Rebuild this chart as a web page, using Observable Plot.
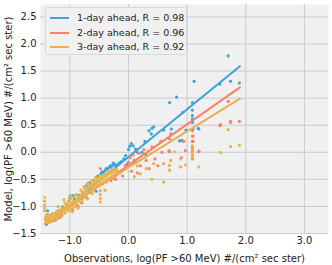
<!DOCTYPE html>
<html><head><meta charset="utf-8">
<script src="https://cdn.jsdelivr.net/npm/d3@7"></script>
<script src="https://cdn.jsdelivr.net/npm/@observablehq/plot@0.6"></script>
<style>
body{margin:0;background:#fff;font-family:"DejaVu Sans",sans-serif;}
#wrap{position:relative;width:332px;height:265px;}
#legend{position:absolute;left:45px;top:7px;width:142px;height:48px;background:#f0f0f0;border:1px solid #d8d8d8;border-radius:3px;box-sizing:border-box;font-size:9.5px;color:#222;}
.row{position:absolute;left:0;height:12px;line-height:12px;white-space:nowrap;}
.sw{position:absolute;left:4px;top:5px;width:19px;height:2px;}
.lt{position:absolute;left:31px;top:0;}
</style></head><body>
<div id="wrap"><div id="chart"></div><div id="legend"></div></div>
<script>
const seriesNames = ["1-day ahead, R = 0.98", "2-day ahead, R = 0.96", "3-day ahead, R = 0.92"];
const colors = ["#3aa3dc", "#f9806a", "#e7b24c"];
const xTicks = [-1, 0, 1, 2, 3];
const yTicks = [-1.5, -1, -0.5, 0, 0.5, 1, 1.5, 2, 2.5];
const xLabel = "Observations, log(PF >60 MeV) #/(cm² sec ster)";
const yLabel = "Model, log(PF >60 MeV) #/(cm² sec ster)";

// fitted lines [obs, model] end points
const fit1 = [[-1.40, -1.32], [1.90, 1.59]];
const fit2 = [[-1.40, -1.30], [1.90, 1.20]];
const fit3 = [[-1.40, -1.22], [1.90, 0.99]];

// 1-day ahead points [obs, model]
const pts1 = [
 [-1.40,-1.33],[-1.38,-1.27],[-1.38,-1.23],[-1.38,-1.15],[-1.38,-1.08],[-1.35,-1.28],[-1.30,-1.14],[-1.25,-1.22],
 [-1.20,-1.08],[-1.12,-1.01],[-1.05,-0.97],[-1.00,-0.85],[-0.95,-0.80],[-0.92,-0.86],[-0.85,-0.79],[-0.78,-0.74],
 [-0.72,-0.62],[-0.66,-0.56],[-0.60,-0.52],[-0.55,-0.72],[-0.52,-0.44],[-0.47,-0.40],[-0.43,-0.37],[-0.40,-0.34],
 [-0.36,-0.31],[-0.33,-0.28],[-0.30,-0.27],[-0.27,-0.24],[-0.24,-0.22],[-0.21,-0.26],[-0.19,-0.23],[-0.16,-0.20],
 [-0.12,-0.17],[-0.08,-0.12],[-0.05,-0.06],[0.00,0.05],[0.02,0.11],[0.05,0.16],[0.08,0.12],[0.12,0.06],
 [0.15,0.00],[0.23,0.00],[0.28,0.20],[0.35,0.40],[0.39,0.34],[0.40,0.44],[0.43,0.47],[0.60,0.41],
 [0.70,0.92],[0.73,0.43],[0.82,1.02],[0.87,0.21],[0.91,0.22],[0.93,0.74],[0.98,0.41],[1.09,0.92],
 [1.09,0.78],[1.09,0.68],[1.09,0.62],[1.09,0.58],[1.09,0.55],[1.10,0.43],[1.12,1.31],[1.19,0.44],
 [1.20,0.43],[1.56,1.26],[1.70,1.78],[1.74,1.31],[1.89,1.28],[0.30,-0.05],[0.10,-0.15],[-0.02,-0.22],
 [-0.45,-0.36],[-0.38,-0.30],[-0.31,-0.25],[-0.26,-0.20]
];
// 2-day ahead points
const pts2 = [
 [-1.41,-1.31],[-1.36,-1.29],[-1.30,-1.27],[-1.22,-1.22],[-1.15,-1.18],[-1.02,-0.90],[-0.95,-1.06],[-0.88,-0.99],
 [-0.80,-0.93],[-0.72,-0.83],[-0.65,-0.74],[-0.58,-0.68],[-0.50,-0.62],[-0.44,-0.58],[-0.38,-0.55],[-0.33,-0.50],
 [-0.28,-0.47],[-0.24,-0.48],[-0.20,-0.42],[-0.15,-0.38],[-0.10,-0.44],[-0.06,-0.30],[-0.05,-0.24],[0.00,-0.18],
 [0.03,-0.10],[0.05,-0.35],[0.08,-0.05],[0.10,-0.20],[0.15,-0.38],[0.18,-0.02],[0.20,-0.25],[0.26,0.05],
 [0.30,-0.15],[0.35,-0.30],[0.40,0.10],[0.45,-0.12],[0.50,-0.25],[0.55,0.20],[0.57,0.00],[0.69,0.03],
 [0.70,0.25],[0.70,0.01],[0.72,0.34],[0.90,-0.10],[0.94,0.20],[0.97,0.03],[1.09,0.40],[1.09,0.30],
 [1.09,0.20],[1.09,0.10],[1.09,0.02],[1.09,-0.05],[1.09,-0.12],[1.10,0.30],[1.10,0.20],[1.20,0.02],
 [1.20,0.01],[1.56,0.49],[1.57,0.51],[1.70,0.94],[1.74,0.57],[1.74,0.55],[1.89,0.57],[-0.48,-0.30],
 [-1.25,-1.26],[-1.18,-1.21],[-0.30,-0.52],[-0.22,-0.50]
];
// 3-day ahead points
const pts3 = [
 [-1.42,-1.24],[-1.41,-1.19],[-1.40,-1.29],[-1.43,-0.83],[-1.43,-0.90],[-1.43,-0.97],[-1.43,-1.03],[-1.43,-1.08],
 [-1.38,-1.25],[-1.39,-1.15],[-1.37,-1.30],[-1.33,-1.23],[-1.32,-1.28],[-1.27,-1.20],[-1.27,-1.26],[-1.22,-1.17],
 [-1.36,-1.21],[-1.35,-1.16],[-1.34,-1.26],[-1.30,-1.19],[-1.29,-1.14],[-1.28,-1.23],[-1.25,-1.16],[-1.24,-1.11],
 [-1.23,-1.21],[-1.20,-1.14],[-1.19,-1.09],[-1.18,-1.19],[-1.20,-1.00],[-1.15,-1.10],[-1.14,-1.05],[-1.13,-1.15],
 [-1.10,-1.07],[-1.09,-1.02],[-1.08,-1.12],[-1.10,-0.88],[-1.05,-1.03],[-1.04,-0.98],[-1.03,-1.08],[-1.00,-1.00],
 [-0.99,-0.95],[-0.98,-1.05],[-1.00,-0.80],[-0.98,-0.85],[-0.95,-0.96],[-0.94,-0.91],[-0.93,-1.01],[-0.90,-0.91],
 [-0.89,-0.86],[-0.88,-0.96],[-0.90,-0.78],[-0.85,-0.86],[-0.84,-0.81],[-0.83,-0.91],[-0.85,-1.00],[-0.80,-0.81],
 [-0.79,-0.75],[-0.78,-0.87],[-0.75,-0.74],[-0.74,-0.68],[-0.73,-0.80],[-0.70,-0.68],[-0.69,-0.62],[-0.68,-0.74],
 [-0.65,-0.63],[-0.64,-0.58],[-0.63,-0.69],[-0.60,-0.59],[-0.59,-0.54],[-0.58,-0.65],[-0.55,-0.55],[-0.54,-0.50],
 [-0.53,-0.61],[-0.50,-0.51],[-0.49,-0.46],[-0.48,-0.57],[-0.48,-0.71],[-0.48,-0.78],[-0.48,-0.85],[-0.48,-0.92],
 [-0.45,-0.48],[-0.44,-0.43],[-0.43,-0.54],[-0.40,-0.45],[-0.40,-0.70],[-0.39,-0.40],[-0.38,-0.51],[-0.35,-0.41],
 [-0.34,-0.36],[-0.33,-0.47],[-0.30,-0.38],[-0.29,-0.33],[-0.28,-0.44],[-0.25,-0.34],[-0.24,-0.30],[-0.23,-0.40],
 [-0.20,-0.31],[-0.19,-0.36],[0.10,-0.45],[0.15,-0.25],[0.20,-0.40],[0.30,-0.30],[0.40,-0.50],[0.43,-0.21],
 [-1.17,-1.13],[-1.12,-1.09],[-1.07,-1.05],[-1.02,-1.02],[-0.97,-0.98],[-0.92,-0.93],[-0.87,-0.88],[-0.82,-0.84],
 [-0.77,-0.78],[-0.72,-0.71],[-0.67,-0.65],[-0.62,-0.61],[-0.57,-0.57],[-0.52,-0.53],[-0.47,-0.49],[-0.42,-0.46],
 [-0.37,-0.43],[-0.32,-0.39],[-0.27,-0.36],[-0.22,-0.33],[-0.96,-1.10],[-0.86,-1.03],[-0.70,-0.86],[-0.62,-0.76],
 [-0.70,-0.58],[-0.62,-0.52],[-0.56,-0.46],[-0.81,-0.70],[-0.92,-0.80],[-1.08,-0.94],[-1.00,-0.88],[-0.76,-0.64],
 [0.60,-0.21],[0.60,-0.55],[0.70,-0.24],[0.70,-0.33],[0.72,-0.15],[0.79,0.01],[0.89,-0.27],[0.89,-0.12],
 [0.97,-0.23],[1.09,0.12],[1.09,0.06],[1.09,0.00],[1.09,-0.05],[1.09,-0.10],[1.20,-0.27],[1.57,0.00],
 [1.70,0.42],[1.74,0.105],[1.89,0.13]
];

const toRows = (arr, i) => arr.map(([o, m]) => ({o, m, s: i}));
const dots = [pts1, pts2, pts3].map(toRows);
const lines = [fit1, fit2, fit3].map(toRows);

const marks = [
  Plot.frame({fill: "#f0f0f0", stroke: null}),
  Plot.gridX(xTicks, {stroke: "#cbcbcb", strokeOpacity: 1, strokeWidth: 1}),
  Plot.gridY(yTicks, {stroke: "#cbcbcb", strokeOpacity: 1, strokeWidth: 1})
];
for (let i = 0; i < 3; i++) {
  marks.push(Plot.dot(dots[i], {x: "o", y: "m", r: 1.6, fill: colors[i], stroke: null}));
  marks.push(Plot.line(lines[i], {x: "o", y: "m", stroke: colors[i], strokeWidth: 2}));
}
marks.push(Plot.axisX(xTicks, {tickSize: 0, tickPadding: 3, tickFormat: d3.format(".1f"), label: xLabel, labelArrow: "none", labelAnchor: "center", labelOffset: 28, fill: "#222"}));
marks.push(Plot.axisY(yTicks, {tickSize: 0, tickPadding: 4, tickFormat: d3.format(".1f"), label: yLabel, labelArrow: "none", labelAnchor: "center", labelOffset: 36, fill: "#222"}));

const chart = Plot.plot({
  width: 332, height: 265,
  marginLeft: 40, marginRight: 4, marginTop: 4, marginBottom: 32,
  x: {domain: [-1.50, 3.41]},
  y: {domain: [-1.50, 2.73]},
  style: {fontFamily: "DejaVu Sans", fontSize: "10px", background: "#fff", color: "#222"},
  marks
});
document.getElementById("chart").appendChild(chart);

const leg = document.getElementById("legend");
seriesNames.forEach((n, i) => {
  const row = document.createElement("div");
  row.className = "row";
  row.style.top = (4 + i * 14.5) + "px";
  row.innerHTML = `<div class="sw" style="background:${colors[i]}"></div><div class="lt">${n}</div>`;
  leg.appendChild(row);
});
</script></body></html>
